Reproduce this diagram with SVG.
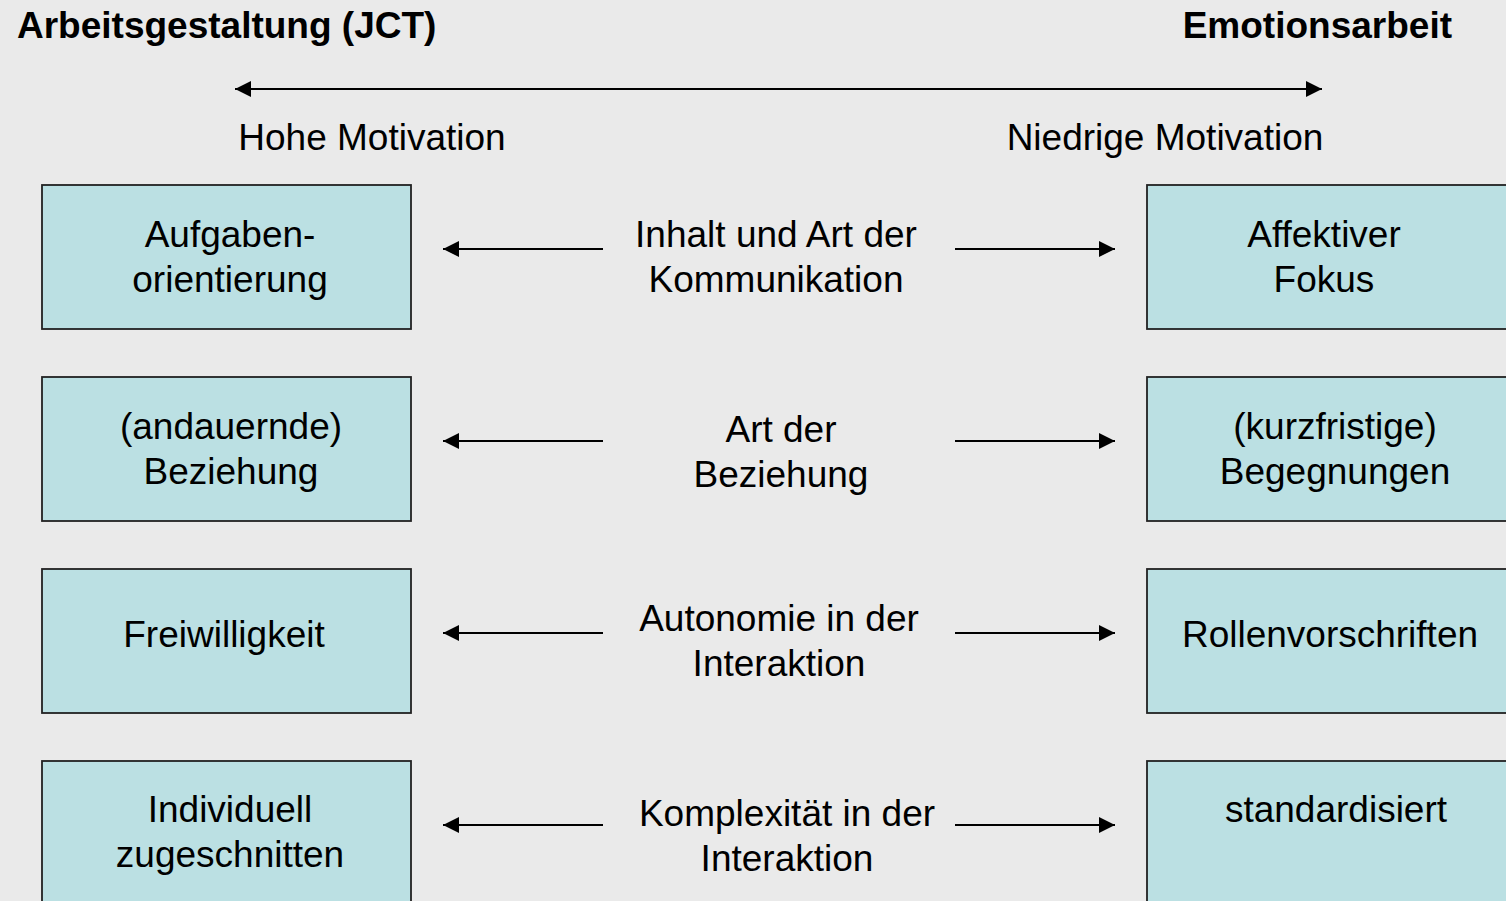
<svg xmlns="http://www.w3.org/2000/svg" width="1506" height="901" viewBox="0 0 1506 901">
<defs>
<marker id="ah" viewBox="0 0 16 16" refX="16" refY="8" markerWidth="16" markerHeight="16" markerUnits="userSpaceOnUse" orient="auto-start-reverse">
<path d="M0,0 L16,8 L0,16 Z" fill="#000"/>
</marker>
<style>
.box{fill:#bbe0e3;stroke:#222;stroke-width:1.8}
.t{font-family:"Liberation Sans",Arial,sans-serif;font-size:37px;fill:#000;text-anchor:middle}
.h{font-family:"Liberation Sans",Arial,sans-serif;font-size:37px;font-weight:bold;fill:#000}
.c{stroke:#000;stroke-width:2;fill:none}
</style>
</defs>
<rect x="0" y="0" width="1506" height="901" fill="#eaeaea"/>
<g id="titles">
<text class="h" x="17" y="38">Arbeitsgestaltung (JCT)</text>
<text class="h" x="1452" y="38" text-anchor="end">Emotionsarbeit</text>
<text class="t" x="372" y="150">Hohe Motivation</text>
<text class="t" x="1165" y="150">Niedrige Motivation</text>
</g>
<g id="connectors">
<line class="c" x1="235" y1="89" x2="1322" y2="89" marker-start="url(#ah)" marker-end="url(#ah)"/>
<line class="c" x1="603" y1="249" x2="443" y2="249" marker-end="url(#ah)"/>
<line class="c" x1="955" y1="249" x2="1115" y2="249" marker-end="url(#ah)"/>
<line class="c" x1="603" y1="441" x2="443" y2="441" marker-end="url(#ah)"/>
<line class="c" x1="955" y1="441" x2="1115" y2="441" marker-end="url(#ah)"/>
<line class="c" x1="603" y1="633" x2="443" y2="633" marker-end="url(#ah)"/>
<line class="c" x1="955" y1="633" x2="1115" y2="633" marker-end="url(#ah)"/>
<line class="c" x1="603" y1="825" x2="443" y2="825" marker-end="url(#ah)"/>
<line class="c" x1="955" y1="825" x2="1115" y2="825" marker-end="url(#ah)"/>
</g>
<g id="n-aufgaben">
<rect class="box" x="42" y="185" width="369" height="144"/>
<text class="t" x="230" y="247">Aufgaben-</text>
<text class="t" x="230" y="292">orientierung</text>
</g>
<g id="n-inhalt">
<text class="t" x="776" y="247">Inhalt und Art der</text>
<text class="t" x="776" y="292">Kommunikation</text>
</g>
<g id="n-affektiv">
<rect class="box" x="1147" y="185" width="370" height="144"/>
<text class="t" x="1324" y="247">Affektiver</text>
<text class="t" x="1324" y="292">Fokus</text>
</g>
<g id="n-andauernd">
<rect class="box" x="42" y="377" width="369" height="144"/>
<text class="t" x="231" y="439">(andauernde)</text>
<text class="t" x="231" y="484">Beziehung</text>
</g>
<g id="n-artbez">
<text class="t" x="781" y="442">Art der</text>
<text class="t" x="781" y="487">Beziehung</text>
</g>
<g id="n-kurz">
<rect class="box" x="1147" y="377" width="370" height="144"/>
<text class="t" x="1335" y="439">(kurzfristige)</text>
<text class="t" x="1335" y="484">Begegnungen</text>
</g>
<g id="n-freiwillig">
<rect class="box" x="42" y="569" width="369" height="144"/>
<text class="t" x="224" y="647">Freiwilligkeit</text>
</g>
<g id="n-autonomie">
<text class="t" x="779" y="631">Autonomie in der</text>
<text class="t" x="779" y="676">Interaktion</text>
</g>
<g id="n-rollen">
<rect class="box" x="1147" y="569" width="370" height="144"/>
<text class="t" x="1330" y="647">Rollenvorschriften</text>
</g>
<g id="n-individuell">
<rect class="box" x="42" y="761" width="369" height="160"/>
<text class="t" x="230" y="822">Individuell</text>
<text class="t" x="230" y="867">zugeschnitten</text>
</g>
<g id="n-komplex">
<text class="t" x="787" y="826">Komplexität in der</text>
<text class="t" x="787" y="871">Interaktion</text>
</g>
<g id="n-standard">
<rect class="box" x="1147" y="761" width="370" height="160"/>
<text class="t" x="1336" y="822">standardisiert</text>
</g>
</svg>
